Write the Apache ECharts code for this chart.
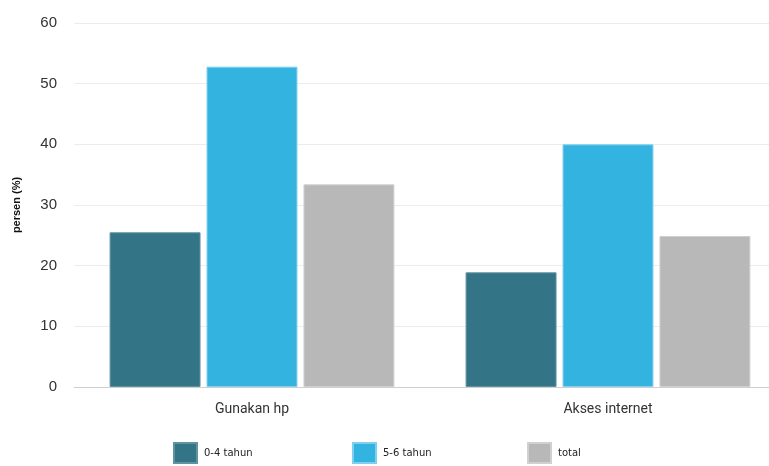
<!DOCTYPE html>
<html><head><meta charset="utf-8">
<script src="https://cdn.jsdelivr.net/npm/echarts@6/dist/echarts.min.js"></script>
<style>html,body{margin:0;padding:0;background:#fff;overflow:hidden;width:769px;height:466px}#c{width:790px;height:466px}</style>
</head><body><div id="c"></div>
<script>
const categories = ['Gunakan hp', 'Akses internet'];
const seriesNames = ['0-4 tahun', '5-6 tahun', 'total'];
const s04 = [25.5, 18.9];
const s56 = [52.8, 40.0];
const sTotal = [33.4, 24.9];
const yTicks = [0, 10, 20, 30, 40, 50, 60];
const colors = ['#337587', '#33b4e0', '#b8b8b8'];
const borders = ['#5f93a2', '#7fd0ee', '#d0d0d0'];
const values = [s04, s56, sTotal];

const chart = echarts.init(document.getElementById('c'));
const legendLefts = [173, 352, 527];
chart.setOption({
  animation: false,
  grid: {left: 74, right: 4, top: 23, bottom: 79, containLabel: false},
  legend: seriesNames.map((n, i) => ({
    data: [n], left: legendLefts[i], top: 442, itemWidth: 23, itemHeight: 20,
    icon: 'rect', itemGap: 0, padding: 0,
    textStyle: {fontSize: 10, color: '#222', fontFamily: 'DejaVu Sans', padding: [0, 0, 0, 2]}
  })),
  xAxis: {
    type: 'category', data: categories,
    axisLine: {lineStyle: {color: '#cfcfcf'}},
    axisTick: {alignWithLabel: true, length: 7, lineStyle: {color: '#cfcfcf'}},
    axisLabel: {fontSize: 14, color: '#333', margin: 15, fontFamily: 'Roboto'}
  },
  yAxis: {
    type: 'value', min: yTicks[0], max: yTicks[yTicks.length - 1], interval: 10,
    name: 'persen (%)', nameLocation: 'middle', nameGap: 52, nameRotate: 90,
    nameTextStyle: {fontSize: 11, fontWeight: 'bold', color: '#111', fontFamily: 'Arial'},
    axisLine: {show: false}, axisTick: {show: false},
    splitLine: {lineStyle: {color: '#ececec'}},
    axisLabel: {fontSize: 15, color: '#333', margin: 17, fontFamily: 'Liberation Sans'}
  },
  series: seriesNames.map((n, i) => ({
    name: n, type: 'bar', data: values[i],
    barCategoryGap: '20%', barGap: '6.6%',
    itemStyle: {color: colors[i], borderColor: borders[i], borderWidth: 1}
  }))
});
</script></body></html>
